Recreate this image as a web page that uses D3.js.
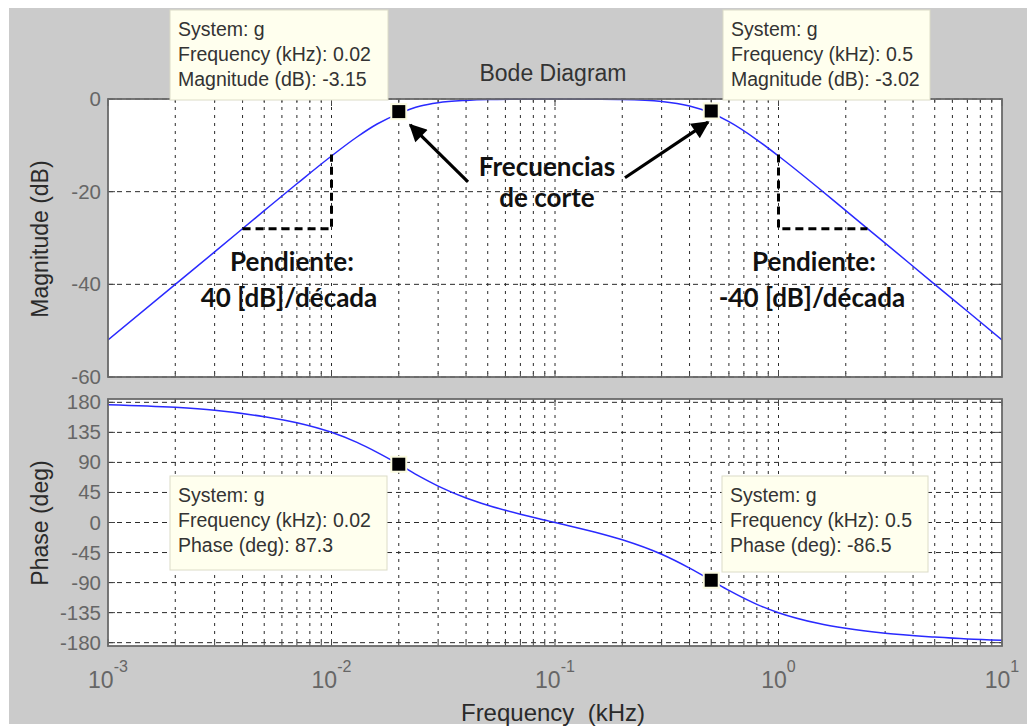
<!DOCTYPE html>
<html><head><meta charset="utf-8">
<script src="https://cdn.jsdelivr.net/npm/d3@7"></script>
<style>body{margin:0;background:#fff} svg{display:block}</style>
</head><body>
<svg id="c" width="1027" height="726"></svg>
<script>
// ---- data ----
const freqs       = [0.001,0.002,0.003,0.005,0.007,0.01,0.013,0.016,0.02,0.025,0.03,0.04,0.05,0.07,0.1,0.15,0.2,0.3,0.4,0.5,0.6,0.8,1,1.5,2,3,5,7,10];
const magnitudeDb = [-52.0,-40.0,-33.0,-24.1,-18.3,-12.3,-8.2,-5.4,-3.15,-1.5,-0.8,-0.3,-0.11,-0.03,0,-0.04,-0.11,-0.53,-1.5,-3.02,-4.9,-8.8,-12.3,-19.1,-24.1,-31.1,-40.0,-45.8,-52.0];
const phaseDeg    = [176.5,172.5,168.0,158.5,149.5,135.1,120.0,105.1,87.3,68.3,54.6,36.8,25.9,12.3,0,-14.1,-25.9,-47.6,-68.3,-86.5,-101.8,-122.6,-135.1,-151.0,-158.5,-165.9,-171.6,-174.5,-176.5];
const magTicks    = [0,-20,-40,-60];
const phaseTicks  = [180,135,90,45,0,-45,-90,-135,-180];
const decadeTicks = [0.001,0.01,0.1,1,10];
const decadeExps  = ["-3","-2","-1","0","1"];
const cutoffFreqs = [0.02,0.5];
const cutoffMag   = [-3.15,-3.02];
const cutoffPhase = [87.3,-86.5];
const slopeLeftF  = [0.004,0.01];
const slopeRightF = [1,2.5];
const slopeDb     = [-28,-12];
const arrowTailF  = [0.0408,0.2056];
const arrowTailDb = [-17.9,-17.0];
const arrowTipF   = [0.0225,0.484];
const arrowTipDb  = [-5.6,-5.0];

const svg = d3.select("#c");
const W = 1027, H = 726;
const FONT = "'Liberation Sans', Arial, sans-serif";

// background
svg.append("rect").attr("x",0).attr("y",0).attr("width",W).attr("height",H).attr("fill","#ffffff");
svg.append("rect").attr("x",9).attr("y",8).attr("width",W-9).attr("height",716).attr("fill","#cbcbcb");

const x  = d3.scaleLog().domain([0.001,10]).range([108,1002]);
const yM = d3.scaleLinear().domain([-60,0]).range([377,99]);
const yP = d3.scaleLinear().domain([-185,185]).range([646,399]);

// all log grid positions
const logGrid = [];
for (let d=-3; d<=0; d++) for (let k=1;k<=9;k++) logGrid.push(k*Math.pow(10,d));
logGrid.push(10);

const defs = svg.append("defs");
function clip(id, y0, y1){
  defs.append("clipPath").attr("id",id).append("rect")
    .attr("x",108).attr("y",y0).attr("width",1002-108).attr("height",y1-y0);
}
clip("cm",97,379); clip("cp",399,646);

function panel(yScale, ticks, vals, clipId){
  const [yb, yt] = yScale.range();
  const g = svg.append("g");
  g.append("rect").attr("x",108).attr("y",yt).attr("width",1002-108).attr("height",yb-yt).attr("fill","#fff");
  // vertical grid
  g.selectAll(".vg").data(logGrid.filter(v=>v>0.001 && v<10)).join("line")
    .attr("x1",d=>x(d)).attr("x2",d=>x(d)).attr("y1",yt).attr("y2",yb)
    .attr("stroke","#2a2a2a").attr("stroke-width",1).attr("stroke-dasharray","3,5");
  // horizontal grid
  g.selectAll(".hg").data(ticks).join("line")
    .attr("x1",108).attr("x2",1002).attr("y1",d=>yScale(d)).attr("y2",d=>yScale(d))
    .attr("stroke","#2a2a2a").attr("stroke-width",1).attr("stroke-dasharray","5,4");
  // inner ticks on x
  g.selectAll(".tx").data(logGrid).join("path")
    .attr("d",d=>{const L = decadeTicks.includes(d)?7:4; const px=x(d);
      return `M${px},${yb}v${-L}M${px},${yt}v${L}`;})
    .attr("stroke","#444").attr("stroke-width",1);
  // inner ticks on y
  g.selectAll(".ty").data(ticks).join("path")
    .attr("d",d=>`M108,${yScale(d)}h7M1002,${yScale(d)}h-7`)
    .attr("stroke","#444").attr("stroke-width",1);
  // curve
  const line = d3.line().x((d,i)=>x(freqs[i])).y(d=>yScale(d)).curve(d3.curveMonotoneX);
  g.append("path").attr("d",line(vals)).attr("fill","none").attr("stroke","#2a2aff")
    .attr("stroke-width",1.5).attr("clip-path",`url(#${clipId})`);
  // box
  g.append("rect").attr("x",108).attr("y",yt).attr("width",1002-108).attr("height",yb-yt)
    .attr("fill","none").attr("stroke","#6a6a6a").attr("stroke-width",1.8);
  // y tick labels
  g.selectAll(".yl").data(ticks).join("text")
    .attr("x",101).attr("y",d=>yScale(d)+7).attr("text-anchor","end")
    .attr("font-family",FONT).attr("font-size",20.5).attr("fill","#666").text(d=>d);
  return g;
}
panel(yM, magTicks, magnitudeDb, "cm");
panel(yP, phaseTicks, phaseDeg, "cp");

// x tick labels
const xl = svg.selectAll(".xl").data(decadeTicks).join("text")
  .attr("x",d=>x(d)).attr("y",688).attr("text-anchor","middle")
  .attr("font-family",FONT).attr("font-size",23).attr("fill","#666");
xl.append("tspan").text("10");
xl.append("tspan").attr("dy",-16).attr("font-size",16).text((d,i)=>decadeExps[i]);

// axis labels / title
svg.append("text").attr("x",553).attr("y",81).attr("text-anchor","middle")
  .attr("font-family",FONT).attr("font-size",23).attr("fill","#333").text("Bode Diagram");
svg.append("text").attr("transform","translate(48,239) rotate(-90)").attr("text-anchor","middle")
  .attr("font-family",FONT).attr("font-size",23).attr("fill","#2a2a2a").text("Magnitude (dB)");
svg.append("text").attr("transform","translate(48,523) rotate(-90)").attr("text-anchor","middle")
  .attr("font-family",FONT).attr("font-size",23).attr("fill","#2a2a2a").text("Phase (deg)");
svg.append("text").attr("x",553).attr("y",721).attr("text-anchor","middle")
  .attr("font-family",FONT).attr("font-size",24).attr("fill","#2a2a2a").attr("xml:space","preserve").text("Frequency  (kHz)");

// slope dashed helpers
svg.append("path").attr("d",`M${x(slopeLeftF[0])},${yM(slopeDb[0])}H${x(slopeLeftF[1])}V${yM(slopeDb[1])}`)
  .attr("fill","none").attr("stroke","#000").attr("stroke-width",3).attr("stroke-dasharray","8,5");
svg.append("path").attr("d",`M${x(slopeRightF[0])},${yM(slopeDb[1])}V${yM(slopeDb[0])}H${x(slopeRightF[1])}`)
  .attr("fill","none").attr("stroke","#000").attr("stroke-width",3).attr("stroke-dasharray","8,5");

// arrows
defs.append("marker").attr("id","ah").attr("viewBox","0 0 10 10").attr("refX",9).attr("refY",5)
  .attr("markerWidth",6.5).attr("markerHeight",5.5).attr("markerUnits","strokeWidth").attr("orient","auto")
  .append("path").attr("d","M0,0L10,5L0,10z").attr("fill","#000");
arrowTailF.forEach((f,i)=>{
  svg.append("line").attr("x1",x(f)).attr("y1",yM(arrowTailDb[i]))
    .attr("x2",x(arrowTipF[i])).attr("y2",yM(arrowTipDb[i]))
    .attr("stroke","#000").attr("stroke-width",3.2).attr("marker-end","url(#ah)");
});

// annotation texts
const AF = "Lato, 'Open Sans', sans-serif";
function ann(xp, yp, t){
  svg.append("text").attr("x",xp).attr("y",yp).attr("text-anchor","middle")
    .attr("font-family",AF).attr("font-weight","bold").attr("font-size",26).attr("fill","#111").text(t);
}
const cx = Math.sqrt(cutoffFreqs[0]*cutoffFreqs[1]);
ann(x(cx)-8, 176, "Frecuencias");
ann(x(cx)-8, 207, "de corte");
ann(292, 271, "Pendiente:");
ann(289, 307, "40 [dB]/década");
ann(814, 271, "Pendiente:");
ann(812, 307, "-40 [dB]/década");

// markers
function marker(f, yv){
  svg.append("rect").attr("x",x(f)-7.5).attr("y",yv-7.5).attr("width",15).attr("height",15)
    .attr("fill","#000").attr("stroke","#fbfbe0").attr("stroke-width",2);
}
cutoffFreqs.forEach((f,i)=>{ marker(f, yM(cutoffMag[i])-2); marker(f, yP(cutoffPhase[i])); });

// datatips
function tip(x0,y0,w,h,lines){
  svg.append("rect").attr("x",x0).attr("y",y0).attr("width",w).attr("height",h)
    .attr("fill","#ffffee").attr("stroke","#dcdcc8").attr("stroke-width",1);
  lines.forEach((t,i)=>svg.append("text").attr("x",x0+8).attr("y",y0+26+i*25)
    .attr("font-family",FONT).attr("font-size",19.5).attr("fill","#333").text(t));
}
tip(170,10,218,90,["System: g",`Frequency (kHz): ${cutoffFreqs[0]}`,`Magnitude (dB): ${cutoffMag[0]}`]);
tip(723,10,207,90,["System: g",`Frequency (kHz): ${cutoffFreqs[1]}`,`Magnitude (dB): ${cutoffMag[1]}`]);
tip(170,476,217,94,["System: g",`Frequency (kHz): ${cutoffFreqs[0]}`,`Phase (deg): ${cutoffPhase[0]}`]);
tip(722,476,206,96,["System: g",`Frequency (kHz): ${cutoffFreqs[1]}`,`Phase (deg): ${cutoffPhase[1]}`]);
</script>
</body></html>
